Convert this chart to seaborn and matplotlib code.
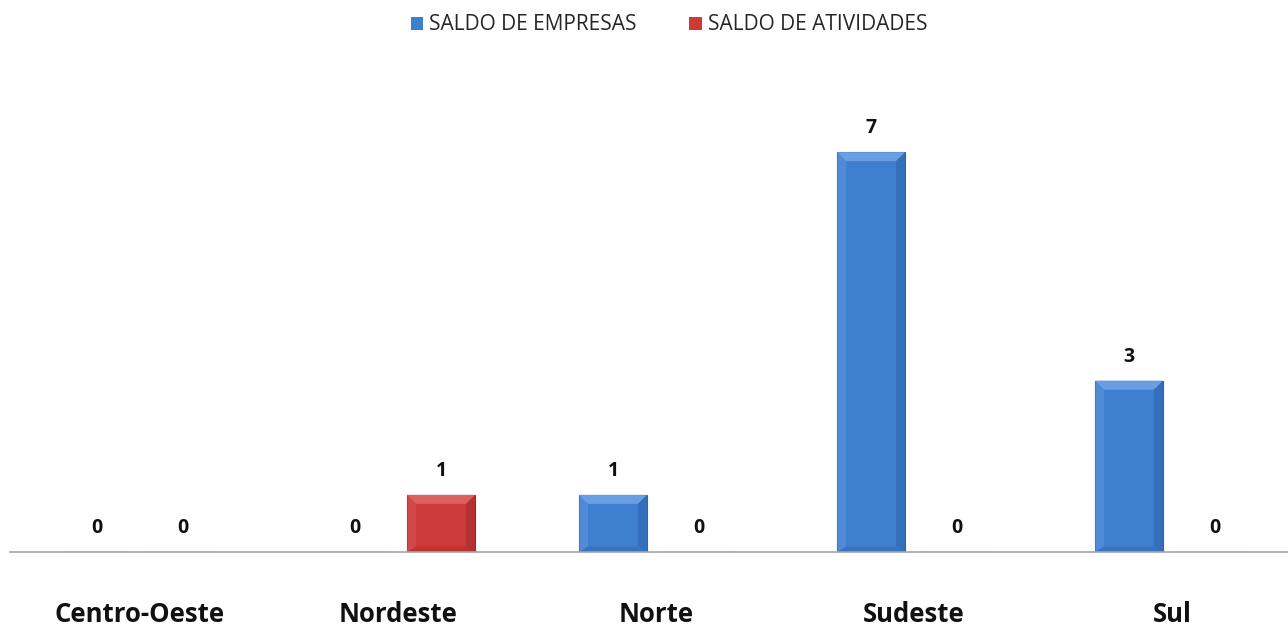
import matplotlib
matplotlib.use("Agg")
import matplotlib.pyplot as plt
import seaborn as sns
import pandas as pd
from matplotlib.patches import Patch, Polygon

regioes = ["Centro-Oeste", "Nordeste", "Norte", "Sudeste", "Sul"]
saldo_empresas = [0, 0, 1, 7, 3]
saldo_atividades = [0, 1, 0, 0, 0]
series = ["SALDO DE EMPRESAS", "SALDO DE ATIVIDADES"]
cores = ["#3F7FCF", "#CC3A3A"]

df = pd.DataFrame({
    "regiao": regioes * 2,
    "serie": [series[0]] * len(regioes) + [series[1]] * len(regioes),
    "valor": saldo_empresas + saldo_atividades,
})

sns.set_theme(style="white")
plt.rcParams["font.family"] = ["Open Sans", "DejaVu Sans"]

W, H = 1288, 626
fig = plt.figure(figsize=(W / 100, H / 100), dpi=100)
ax = fig.add_axes([10 / W, 74 / H, 1 - 10 / W, 457 / H])

sns.barplot(data=df, x="regiao", y="valor", hue="serie", order=regioes,
            hue_order=series, palette=cores, width=0.667, gap=0.21,
            saturation=1, edgecolor="none", legend=False, ax=ax)

ax.set_xlim(-130 / 258, (1288 - 140) / 258)
ax.set_ylim(0, 8)

# bevel shading derived from each drawn bar (pixel-space insets)
bevel = 9  # px
light = {0: "#6FA3E6", 1: "#E06464"}
dark = {0: "#2F65AE", 1: "#A52C2C"}
fig.canvas.draw()
for k, (cont, edge) in enumerate(zip(ax.containers, ["#2F64A8", "#A02A2A"])):
    for p in cont:
        p.set_edgecolor(edge)
        p.set_linewidth(0.8)
        if p.get_height() <= 0:
            continue
        x0, y0 = ax.transData.transform((p.get_x(), 0))
        x1, y1 = ax.transData.transform((p.get_x() + p.get_width(), p.get_height()))
        b = bevel
        top = [(x0, y1), (x1, y1), (x1 - b, y1 - b), (x0 + b, y1 - b)]
        bot = [(x0, y0), (x1, y0), (x1 - b, y0 + b * 0.6), (x0 + b, y0 + b * 0.6)]
        lft = [(x0, y0), (x0, y1), (x0 + b, y1 - b), (x0 + b, y0 + b * 0.6)]
        rgt = [(x1, y0), (x1, y1), (x1 - b, y1 - b), (x1 - b, y0 + b * 0.6)]
        inv = ax.transData.inverted()
        for poly, col, a in [(top, light[k], 0.9), (lft, light[k], 0.35),
                             (rgt, dark[k], 0.6), (bot, dark[k], 0.45)]:
            pts = inv.transform(poly)
            ax.add_patch(Polygon(pts, closed=True, facecolor=col, edgecolor="none",
                                 alpha=a, zorder=p.get_zorder() + 0.1))
    ax.bar_label(cont, labels=[f"{int(v)}" for v in cont.datavalues],
                 padding=10, fontsize=14, fontweight="bold", color="#111111")

ax.set_xlabel("")
ax.set_ylabel("")
ax.set_yticks([])
for s in ["top", "right", "left"]:
    ax.spines[s].set_visible(False)
ax.spines["bottom"].set_color("#A6A6A6")
ax.spines["bottom"].set_linewidth(1.2)
ax.tick_params(axis="x", length=0, pad=35, labelsize=18.5)
for t in ax.get_xticklabels():
    t.set_fontweight("bold")
    t.set_color("#111111")

handles = [Patch(facecolor=c, edgecolor="none") for c in cores]
fig.legend(handles, series, loc="center", bbox_to_anchor=(669 / W, 1 - 25 / H),
           ncol=2, frameon=False, fontsize=15, handlelength=0.6,
           handleheight=0.6, handletextpad=0.3, columnspacing=2.5)

fig.savefig("out.png", dpi=100)
